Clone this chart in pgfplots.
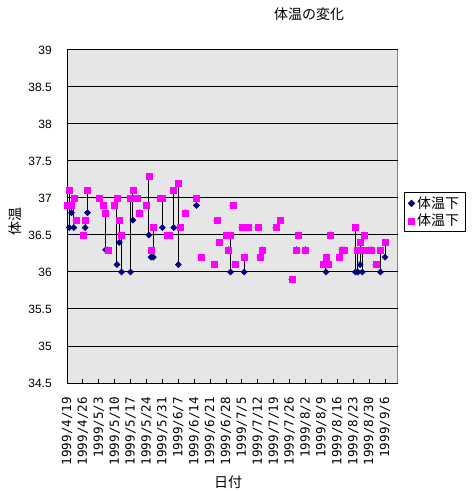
\documentclass[border=0pt]{standalone}
\usepackage{pgfplots}
\pgfplotsset{compat=1.18}
\usepackage{pgfplotstable}
\usepackage{fontspec}
\setmainfont{Liberation Sans}
\newfontfamily\jp{Noto Sans CJK JP}
\newfontfamily\monof{DejaVu Sans Mono}
\definecolor{navyc}{HTML}{000080}
\definecolor{magc}{HTML}{FF00FF}
\definecolor{bgc}{HTML}{E6E6E6}

\pgfplotstableread{
d hi lo
0 36.9 36.9
1 37.1 36.6
2 36.9 36.8
3 37.0 36.6
4 36.7 36.7
7 36.5 36.5
8 36.7 36.6
9 37.1 36.8
14 37.0 37.0
16 36.9 36.9
17 36.8 36.3
18 36.3 36.3
21 36.9 36.9
22 37.0 36.1
23 36.7 36.4
24 36.5 36.0
28 37.0 36.0
29 37.1 36.7
31 37.0 37.0
32 36.8 36.8
35 36.9 36.9
36 37.3 36.5
37 36.3 36.2
38 36.6 36.2
41 37.0 37.0
42 37.0 36.6
44 36.5 36.5
45 36.5 36.5
47 37.1 36.6
49 37.2 36.1
50 36.6 36.6
52 36.8 36.8
57 37.0 36.9
59 36.2 36.2
65 36.1 36.1
66 36.7 36.7
67 36.4 36.4
70 36.5 36.5
71 36.3 36.3
72 36.5 36.0
73 36.9 36.9
74 36.1 36.1
77 36.6 36.6
78 36.2 36.0
80 36.6 36.6
84 36.6 36.6
85 36.2 36.2
86 36.3 36.3
92 36.6 36.6
94 36.7 36.7
99 35.9 35.9
101 36.3 36.3
102 36.5 36.5
105 36.3 36.3
113 36.1 36.1
114 36.2 36.0
115 36.1 36.1
116 36.5 36.5
120 36.2 36.2
121 36.3 36.3
122 36.3 36.3
127 36.6 36.0
128 36.3 36.0
129 36.4 36.1
130 36.3 36.0
131 36.5 36.5
133 36.3 36.3
134 36.3 36.3
136 36.1 36.1
138 36.3 36.0
140 36.4 36.2
}\data

\begin{document}
\begin{tikzpicture}
\path[use as bounding box] (-50.25pt,-81pt) rectangle (303pt,287.25pt);
\begin{axis}[
 at={(0,0)}, anchor=south west,
 scale only axis, width=247.875pt, height=249.75pt,
 xmin=0, xmax=145.5, ymin=34.5, ymax=39,
 axis lines*=left,
 axis line style={black, line width=0.75pt},
 axis background/.style={fill=bgc, draw=gray, line width=0.75pt},
 ytick={34.5,35,35.5,36,36.5,37,37.5,38,38.5,39},
 yticklabels={34.5,35,35.5,36,36.5,37,37.5,38,38.5,39},
 ymajorgrids, grid style={black, line width=0.75pt},
 xtick={0,7,...,140},
 xticklabels={1999/4/19,1999/4/26,1999/5/3,1999/5/10,1999/5/17,1999/5/24,1999/5/31,1999/6/7,1999/6/14,1999/6/21,1999/6/28,1999/7/5,1999/7/12,1999/7/19,1999/7/26,1999/8/2,1999/8/9,1999/8/16,1999/8/23,1999/8/30,1999/9/6},
 xticklabel style={yshift=-10.5pt, rotate=90, anchor=east, inner sep=0pt, font=\monof\fontsize{9.4pt}{10pt}\selectfont},
 yticklabel style={xshift=-11.25pt, anchor=east, inner sep=0pt, font=\fontsize{9pt}{10pt}\selectfont},
 major tick length=3pt,
 tick style={black, line width=0.75pt},
 legend style={at={(1.0197,0.5736)}, anchor=north west, draw=black, line width=0.75pt, fill=white,
   font=\jp\fontsize{10.5pt}{12pt}\selectfont, inner xsep=3pt, inner ysep=1pt, row sep=-1pt},
 legend cell align=left,
]
\addplot[forget plot, only marks, mark=none, black,
  error bars/.cd, y dir=minus, y explicit, error mark=none,
  error bar style={black, line width=0.75pt}]
  table[x=d, y=hi, y error minus expr={\thisrow{hi}-\thisrow{lo}}]{\data};
\addplot[only marks, mark=square*, mark size=1.6pt, color=navyc, mark options={rotate=45, draw=navyc, fill=navyc}]
  table[x=d, y=lo]{\data};
\addplot[only marks, mark=square*, mark size=2.25pt, color=magc, mark options={draw=magc, fill=magc}]
  table[x=d, y=hi]{\data};
\legend{体温下, 体温下}
\end{axis}
\node at (181.5pt,276.75pt) {\jp\fontsize{10.5pt}{12pt}\selectfont 体温の変化};
\node at (120.75pt,-74.25pt) {\jp\fontsize{10.5pt}{12pt}\selectfont 日付};
\node[rotate=90] at (-39pt,120.75pt) {\jp\fontsize{10.5pt}{12pt}\selectfont 体温};
\end{tikzpicture}
\end{document}
